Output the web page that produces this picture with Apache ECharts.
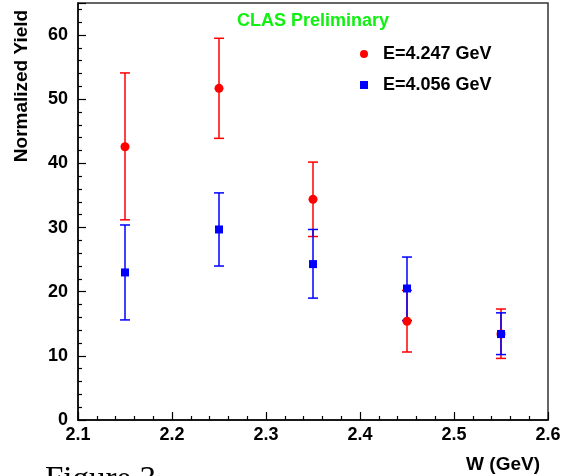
<!DOCTYPE html>
<html>
<head>
<meta charset="utf-8">
<script src="https://cdn.jsdelivr.net/npm/echarts@6/dist/echarts.min.js"></script>
<style>
html,body{margin:0;padding:0;background:#fff;}
#chart{width:570px;height:476px;}
</style>
</head>
<body>
<div id="chart"></div>
<script>
// W bin centers (GeV)
const wValues = [2.15, 2.25, 2.35, 2.45, 2.55];
// E = 4.247 GeV (red circles)
const yieldE4247   = [42.6, 51.7, 34.4, 15.4, 13.4];
const errLowE4247  = [31.2, 43.9, 28.6, 10.6, 9.6];
const errHighE4247 = [54.1, 59.5, 40.2, 20.2, 17.3];
// E = 4.056 GeV (blue squares)
const yieldE4056   = [23.0, 29.7, 24.3, 20.5, 13.4];
const errLowE4056  = [15.6, 24.0, 19.0, 15.5, 10.2];
const errHighE4056 = [30.4, 35.4, 29.7, 25.4, 16.7];
// axis ticks
const xTicks = [2.1, 2.2, 2.3, 2.4, 2.5, 2.6];
const yTicks = [0, 10, 20, 30, 40, 50, 60];
const seriesNames = ['E=4.247 GeV', 'E=4.056 GeV'];

const FONT = "'Liberation Sans', Arial, Helvetica, sans-serif";

function errData(low, high) {
  return wValues.map((w, i) => [w, low[i], high[i]]);
}
function pts(vals) {
  return wValues.map((w, i) => [w, vals[i]]);
}
function errRender(color) {
  return function (params, api) {
    const x = api.value(0);
    const lo = api.coord([x, api.value(1)]);
    const hi = api.coord([x, api.value(2)]);
    const hw = 5;
    const style = { stroke: color, lineWidth: 1.5 };
    return {
      type: 'group',
      children: [
        { type: 'line', shape: { x1: lo[0], y1: lo[1], x2: hi[0], y2: hi[1] }, style: style },
        { type: 'line', shape: { x1: lo[0] - hw, y1: lo[1], x2: lo[0] + hw, y2: lo[1] }, style: style },
        { type: 'line', shape: { x1: hi[0] - hw, y1: hi[1], x2: hi[0] + hw, y2: hi[1] }, style: style }
      ]
    };
  };
}

const chart = echarts.init(document.getElementById('chart'), null, { renderer: 'canvas' });
chart.setOption({
  backgroundColor: '#ffffff',
  animation: false,
  grid: {
    left: 78, right: 22, top: 3, bottom: 56,
    show: true, borderColor: '#333', borderWidth: 1.5, backgroundColor: 'transparent'
  },
  legend: {
    orient: 'vertical',
    left: 355, top: 40,
    itemWidth: 8, itemHeight: 8, itemGap: 13,
    data: seriesNames,
    textStyle: { fontFamily: FONT, fontWeight: 'bold', fontSize: 18, color: '#000', lineHeight: 18, padding: [0, 0, 0, 10] }
  },
  xAxis: {
    type: 'value',
    min: xTicks[0], max: xTicks[xTicks.length - 1], interval: 0.1,
    axisLine: { show: true, lineStyle: { color: '#000', width: 1.5 } },
    axisTick: { show: true, inside: true, length: 8, lineStyle: { color: '#000', width: 1.2 } },
    minorTick: { show: true, splitNumber: 5, length: 4, lineStyle: { color: '#000', width: 1.2 } },
    splitLine: { show: false },
    axisLabel: { fontFamily: FONT, fontWeight: 'bold', fontSize: 18, color: '#000', margin: 6,
      formatter: v => v.toFixed(1) },
    name: 'W (GeV)',
    nameLocation: 'end', nameGap: 0,
    nameTextStyle: { fontFamily: FONT, fontWeight: 'bold', fontSize: 19, color: '#000',
      align: 'right', verticalAlign: 'top', padding: [35, 8, 0, 0] }
  },
  yAxis: {
    type: 'value',
    min: 0, max: 65, interval: 10,
    axisLine: { show: true, lineStyle: { color: '#000', width: 1.5 } },
    axisTick: { show: true, inside: true, length: 8, lineStyle: { color: '#000', width: 1.2 } },
    minorTick: { show: true, splitNumber: 5, length: 4, lineStyle: { color: '#000', width: 1.2 } },
    splitLine: { show: false },
    axisLabel: { fontFamily: FONT, fontWeight: 'bold', fontSize: 18, color: '#000', margin: 10,
      showMaxLabel: false,
      formatter: v => (yTicks.indexOf(v) >= 0 ? String(v) : '') }
  },
  graphic: [
    {
      type: 'text', x: 22, y: 86, rotation: Math.PI / 2,
      style: { text: 'Normalized Yield', fontFamily: FONT, fontWeight: 'bold', fontSize: 19,
        fill: '#000', align: 'center', verticalAlign: 'middle' }
    },
    {
      type: 'text', x: 313, y: 21,
      style: { text: 'CLAS Preliminary', fontFamily: FONT, fontWeight: 'bold', fontSize: 18,
        fill: '#11f011', align: 'center', verticalAlign: 'middle' }
    },
    {
      type: 'text', x: 45, y: 464,
      style: { text: 'Figure 3', fontFamily: "'Liberation Serif', 'DejaVu Serif', serif", fontSize: 33,
        fill: '#000', align: 'left', verticalAlign: 'top' }
    }
  ],
  series: [
    {
      name: 'err4247', type: 'custom', renderItem: errRender('#ff0000'),
      data: errData(errLowE4247, errHighE4247), encode: { x: 0, y: [1, 2] }, silent: true
    },
    {
      name: seriesNames[0], type: 'scatter', symbol: 'circle', symbolSize: 9,
      itemStyle: { color: '#ff0000', opacity: 1 }, data: pts(yieldE4247)
    },
    {
      name: 'err4056', type: 'custom', renderItem: errRender('#0000ff'),
      data: errData(errLowE4056, errHighE4056), encode: { x: 0, y: [1, 2] }, silent: true
    },
    {
      name: seriesNames[1], type: 'scatter', symbol: 'rect', symbolSize: 8,
      itemStyle: { color: '#0000ff', opacity: 1 }, data: pts(yieldE4056)
    }
  ]
});
</script>
</body>
</html>
